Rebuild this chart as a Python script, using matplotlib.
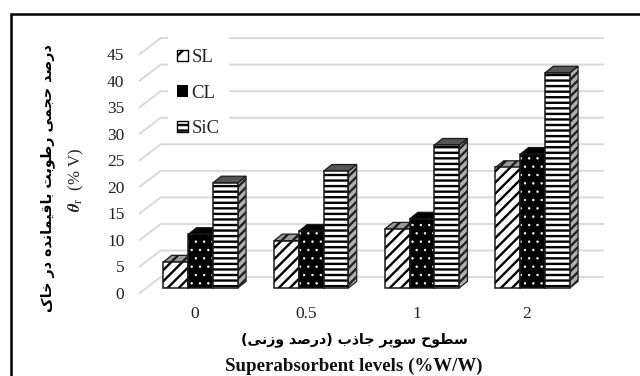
import matplotlib
matplotlib.use("Agg")
import matplotlib.pyplot as plt
from matplotlib.lines import Line2D
from matplotlib.patches import Patch, Polygon, Rectangle

levels = ["0", "0.5", "1", "2"]
sl = [4.9, 8.9, 11.1, 22.7]
cl = [10.1, 10.7, 13.0, 25.2]
sic = [19.8, 22.0, 26.9, 40.5]
yticks = [0, 5, 10, 15, 20, 25, 30, 35, 40, 45]

ylabel_fa = "درصد حجمی رطوبت باقیمانده در خاک"
xlabel_fa = "سطوح سوپر جاذب (درصد وزنی)"
xlabel_en = "Superabsorbent levels (%W/W)"

# first presentation-form code point and number of forms for each letter
FORMS = {"ا": (0xFE8D, 2), "ب": (0xFE8F, 4), "ت": (0xFE95, 4), "ج": (0xFE9D, 4),
         "ح": (0xFEA1, 4), "خ": (0xFEA5, 4), "د": (0xFEA9, 2), "ذ": (0xFEAB, 2),
         "ر": (0xFEAD, 2), "ز": (0xFEAF, 2), "س": (0xFEB1, 4), "ص": (0xFEB9, 4),
         "ط": (0xFEC1, 4), "ق": (0xFED5, 4), "م": (0xFEE1, 4), "ن": (0xFEE5, 4),
         "ه": (0xFEE9, 4), "و": (0xFEED, 2), "پ": (0xFB56, 4), "ک": (0xFB8E, 4),
         "ی": (0xFBFC, 4)}


def shape(text):
    # matplotlib has no bidi or shaping, so join the letters by hand
    out = []
    for i, ch in enumerate(text):
        if ch not in FORMS:
            out.append({"(": ")", ")": "("}.get(ch, ch))
            continue
        start, n = FORMS[ch]
        prev = text[i - 1] if i > 0 else ""
        nxt = text[i + 1] if i + 1 < len(text) else ""
        joins_prev = prev in FORMS and FORMS[prev][1] == 4
        joins_next = nxt in FORMS and n == 4
        if joins_prev and joins_next:
            form = 3
        elif joins_next:
            form = 2
        elif joins_prev:
            form = 1
        else:
            form = 0
        out.append(chr(start + form))
    return "".join(reversed(out))


def thin_hatch(patch, width=0.5):
    # the dot hatch needs a finer stroke than the stripes
    patch._hatch_linewidth = width
    orig = patch.draw

    def draw(renderer):
        with plt.rc_context({"hatch.linewidth": width}):
            orig(renderer)
    patch.draw = draw


plt.rcParams["font.family"] = ["Liberation Serif", "DejaVu Sans"]
plt.rcParams["mathtext.fontset"] = "stix"
plt.rcParams["hatch.linewidth"] = 1.7

W, H = 640, 376
fig = plt.figure(figsize=(6.4, 3.76), dpi=100)
ax = fig.add_axes([139.7 / W, (H - 293) / H, (582.4 - 139.7) / W, (293 - 54) / H])
ax.set_xlim(-0.5, 3.5)
ax.set_ylim(0, 45)
ax.patch.set_alpha(0)
for s in ax.spines.values():
    s.set_visible(False)

# back wall gridlines with the slanted part on the left
wall_dx, wall_dy = 0.19, 3.0
grid_end = 3.686
for v in yticks:
    ax.plot([-0.5, -0.5 + wall_dx, grid_end], [v, v + wall_dy, v + wall_dy],
            color="#d9d9d9", lw=1.4, clip_on=False, zorder=1, solid_joinstyle="miter")

ax.set_xticks(range(len(levels)))
ax.set_xticklabels(levels, fontsize=12.5, color="#222222")
ax.set_yticks(yticks)
ax.set_yticklabels([str(v) for v in yticks], fontsize=12.5, color="#222222")
ax.tick_params(axis="x", length=0, pad=9)
ax.tick_params(axis="y", length=0, pad=11)

# front base sits a little in front of the wall start, bars have a small depth
floor = 0.94
depth_x, depth_y = 0.075, 1.25
bar_w = 0.224
shift = 0.05
edge = "#1a1a1a"

series = [
    (sl, -1, "///", "white", "black", "#999999"),
    (cl, 0, "..", "black", "white", "black"),
    (sic, 1, "---", "white", "black", "#555555"),
]

z = 3
for values, pos, hatch, face, hcolor, topc in series:
    for i, v in enumerate(values):
        x0 = i + shift + pos * bar_w - bar_w / 2
        x1 = x0 + bar_w
        y0, y1 = floor, floor + v
        side = [(x1, y0), (x1 + depth_x, y0 + depth_y), (x1 + depth_x, y1 + depth_y), (x1, y1)]
        top = [(x0, y1), (x0 + depth_x, y1 + depth_y), (x1 + depth_x, y1 + depth_y), (x1, y1)]
        ax.add_patch(Polygon(side, closed=True, facecolor="#b0b0b0", edgecolor="#222222",
                             hatch="////", lw=0.9, zorder=z, clip_on=False))
        ax.add_patch(Polygon(top, closed=True, facecolor=topc, edgecolor=edge,
                             hatch=hatch if pos == -1 else None, lw=0.9, zorder=z, clip_on=False))
        bars = ax.bar(x0, v, bar_w, bottom=floor, align="edge", color=face, edgecolor=hcolor,
                      hatch=hatch, lw=0, zorder=z, clip_on=False)
        if pos == 0:
            thin_hatch(bars[0])
        ax.bar(x0, v, bar_w, bottom=floor, align="edge", fill=False, edgecolor=edge,
               lw=1.1, zorder=z, clip_on=False)
        z += 1

# white block behind the legend cuts the gridlines
ax.add_patch(Rectangle((168 / W, (H - 125) / H), 61 / W, 88 / H, transform=fig.transFigure,
                       facecolor="white", edgecolor="none", zorder=2, clip_on=False))

handles = [Patch(facecolor="white", edgecolor="black", hatch="//", lw=1),
           Patch(facecolor="black", edgecolor="white", hatch=".", lw=0),
           Patch(facecolor="white", edgecolor="black", hatch="---", lw=1)]
leg = ax.legend(handles, ["SL", "CL", "SiC"], loc="upper left",
                bbox_to_anchor=(168 / W, (H - 39.5) / H), bbox_transform=fig.transFigure,
                fontsize=13.5, frameon=False, borderpad=0.5, labelspacing=1.0,
                handlelength=0.55, handleheight=0.55, handletextpad=0.2, borderaxespad=0)
leg.set_zorder(2.5)
thin_hatch(leg.get_patches()[1])
for t in leg.get_texts():
    t.set_color("#222222")

bold_fa = {"family": "DejaVu Sans", "weight": "bold", "color": "#000000"}
fig.text(48 / W, 1 - 178 / H, shape(ylabel_fa), rotation=90, ha="center", va="center",
         fontsize=10.3, **bold_fa)
fig.text(76 / W, 1 - 180 / H, r"$\boldsymbol{\theta}_{\mathrm{r}}$  (% V)", rotation=90,
         ha="center", va="center", fontsize=12, color="#222222")
fig.text(354 / W, 1 - 340 / H, shape(xlabel_fa), ha="center", va="center", fontsize=10.2, **bold_fa)
fig.text(354 / W, 1 - 366.5 / H, xlabel_en, ha="center", va="center", fontsize=13.6,
         weight="bold", color="#111111")

# frame on the top and left only
fig.add_artist(Line2D([11 / W, 11 / W, 1], [0, 1 - 13.5 / H, 1 - 13.5 / H],
                      color="black", lw=1.8, solid_joinstyle="miter"))

fig.savefig("out.png", dpi=100)
